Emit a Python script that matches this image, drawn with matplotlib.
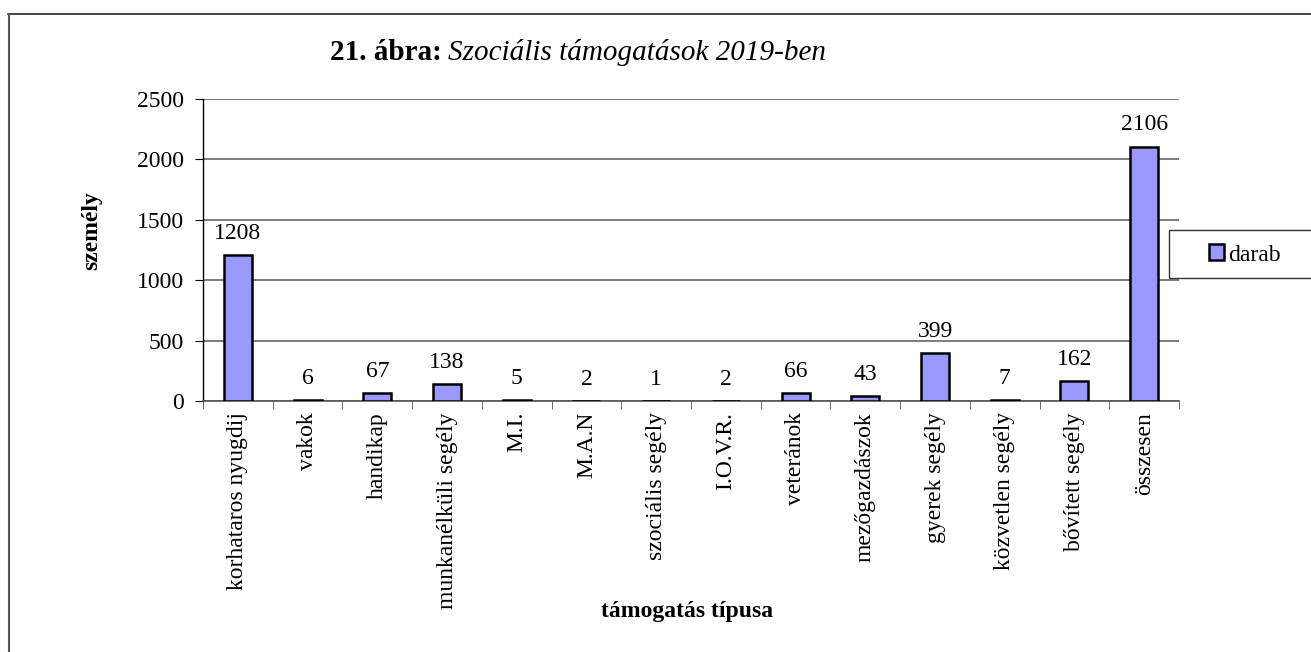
import matplotlib.pyplot as plt
from matplotlib.patches import Rectangle, Patch

plt.rcParams['font.family'] = ['Liberation Serif', 'DejaVu Serif']

categories = ['korhataros nyugdij', 'vakok', 'handikap', 'munkanélküli segély',
              'M.I.', 'M.A.N', 'szociális segély', 'I.O.V.R.', 'veteránok',
              'mezőgazdászok', 'gyerek segély', 'közvetlen segély',
              'bővített segély', 'összesen']
darab = [1208, 6, 67, 138, 5, 2, 1, 2, 66, 43, 399, 7, 162, 2106]
yticks = [0, 500, 1000, 1500, 2000, 2500]

W, H = 1311, 652
FS = 17
fig = plt.figure(figsize=(W / 100, H / 100), dpi=100)
ax = fig.add_axes([203 / W, 1 - 401 / H, (1179 - 203) / W, (401 - 99) / H])

x = list(range(len(categories)))
ax.bar(x, darab, width=0.4, color='#9999FF', edgecolor='black',
       linewidth=1.8, zorder=3)
for xi, v in zip(x, darab):
    ax.annotate(str(v), (xi, v), xytext=(0, 8), textcoords='offset points',
                ha='center', va='bottom', fontsize=FS)

ax.set_xlim(-0.5, len(categories) - 0.5)
ax.set_ylim(0, 2500)
ax.set_yticks(yticks)
ax.set_yticklabels([str(t) for t in yticks], fontsize=FS)
ax.set_xticks(x)
ax.set_xticklabels(categories, rotation=90, fontsize=FS, va='top')
ax.tick_params(axis='x', length=0, pad=8)
ax.set_xticks([i + 0.5 for i in range(-1, len(categories))], minor=True)
ax.tick_params(axis='x', which='minor', length=6, color='#555555', direction='out')
ax.tick_params(axis='y', length=6, color='black', direction='out', pad=8)
ax.yaxis.grid(True, color='#666666', linewidth=1.2, zorder=0)
ax.set_axisbelow(True)
for s in ['top', 'right']:
    ax.spines[s].set_visible(False)
ax.spines['left'].set_color('black')
ax.spines['left'].set_linewidth(1.0)
ax.spines['bottom'].set_color('#555555')
ax.spines['bottom'].set_linewidth(1.2)

fig.text(92 / W, 1 - 231 / H, 'személy', fontsize=FS, fontweight='bold',
         rotation=90, ha='center', va='center')
fig.text(687 / W, 1 - 612 / H, 'támogatás típusa', fontsize=FS,
         fontweight='bold', ha='center', va='center')

# title in two parts: bold + italic
t1 = fig.text(330 / W, 1 - 52 / H, '21. ábra:', fontsize=21, fontweight='bold',
              ha='left', va='center')
fig.canvas.draw()
bb = t1.get_window_extent()
fig.text((bb.x1 + 6) / W, 1 - 52 / H, 'Szociális támogatások 2019-ben',
         fontsize=21, style='italic', ha='left', va='center')

# outer frame (top and left visible)
fig.add_artist(plt.Line2D([8 / W, 1.0], [1 - 14 / H, 1 - 14 / H],
                          color='#222222', linewidth=1.2, transform=fig.transFigure))
fig.add_artist(plt.Line2D([9 / W, 9 / W], [0, 1 - 14 / H],
                          color='#555555', linewidth=1.5, transform=fig.transFigure))

# legend box
fig.add_artist(Rectangle((1169 / W, 1 - 278 / H), (W - 1169 + 10) / W, 48 / H,
                         transform=fig.transFigure, facecolor='white',
                         edgecolor='#333333', linewidth=1.0))
fig.legend(handles=[Patch(facecolor='#9999FF', edgecolor='black', linewidth=1.8,
                          label='darab')],
           loc='center left', bbox_to_anchor=(1209 / W, 1 - 255 / H),
           frameon=False, fontsize=FS, handlelength=0.65, handleheight=0.65,
           handletextpad=0.15, borderpad=0, borderaxespad=0)

fig.savefig('out.png', dpi=100)
